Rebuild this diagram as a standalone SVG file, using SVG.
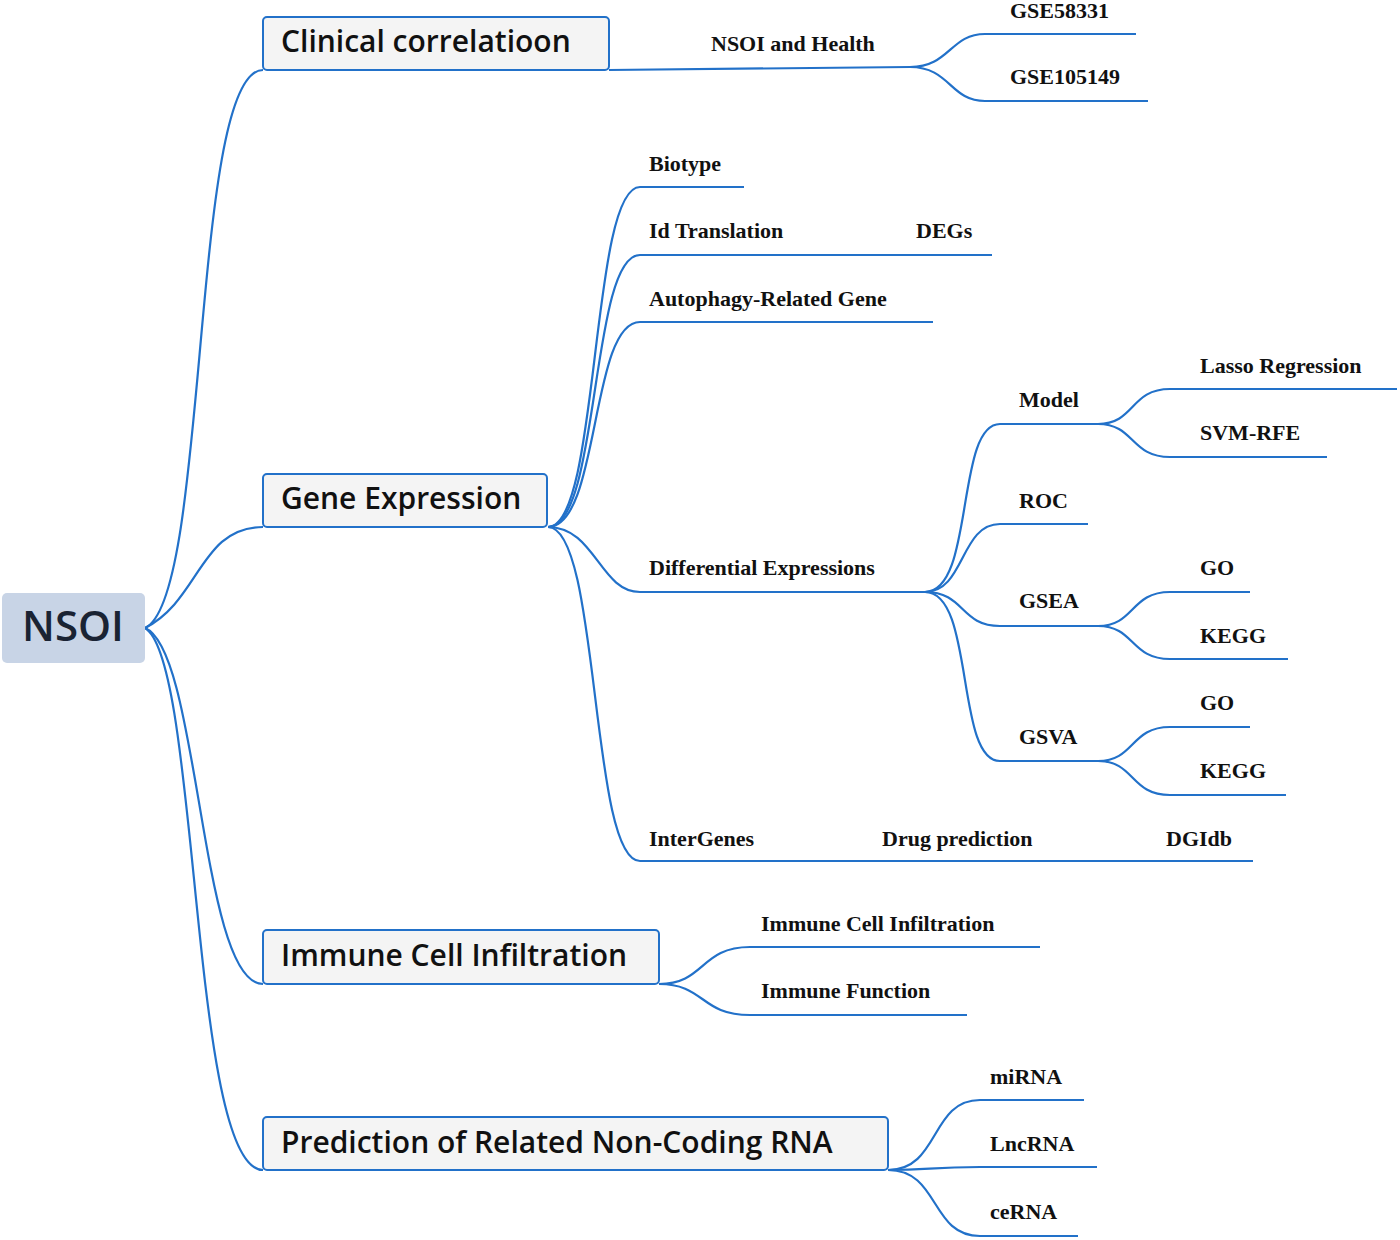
<svg xmlns="http://www.w3.org/2000/svg" width="1400" height="1240" viewBox="0 0 1400 1240">
<style>
.c{fill:none;stroke:#2271c9;stroke-width:2.2}
.box{fill:#f4f4f4;stroke:#2271c9;stroke-width:2}
.bt{font-family:"Open Sans","Noto Sans",sans-serif;font-weight:600;font-size:30px;fill:#111}
.t{font-family:"Liberation Serif","DejaVu Serif",serif;font-weight:bold;font-size:22px;fill:#111}
</style>
<rect width="1400" height="1240" fill="#fff"/>
<g id="connectors">
<path class="c" d="M145,628 C210,600 190,70 263,70"/>
<path class="c" d="M145,628 C200,600 200,527 263,527"/>
<path class="c" d="M145,628 C200,650 200,984 263,984"/>
<path class="c" d="M145,628 C200,660 190,1170 263,1170"/>
<path class="c" d="M609,70 L910,67"/>
<path class="c" d="M910,67 C950,67 950,34 985,34 H1136"/>
<path class="c" d="M910,67 C950,67 950,101 985,101 H1148"/>
<path class="c" d="M548,527 C600,527 590,187 640,187 H744"/>
<path class="c" d="M548,527 C600,527 590,255 640,255 H992"/>
<path class="c" d="M548,527 C600,527 590,322 640,322 H933"/>
<path class="c" d="M548,527 C595,527 600,592 640,592 H925"/>
<path class="c" d="M548,527 C600,527 590,861 640,861 H1253"/>
<path class="c" d="M925,592 C975,592 955,424 1000,424 H1098"/>
<path class="c" d="M925,592 C965,592 960,524 1000,524 H1088"/>
<path class="c" d="M925,592 C965,592 960,626 1000,626 H1098"/>
<path class="c" d="M925,592 C975,592 955,761 1000,761 H1098"/>
<path class="c" d="M1098,424 C1135,424 1130,389 1170,389 H1397"/>
<path class="c" d="M1098,424 C1135,424 1130,457 1170,457 H1327"/>
<path class="c" d="M1098,626 C1135,626 1130,592 1170,592 H1250"/>
<path class="c" d="M1098,626 C1135,626 1130,659 1170,659 H1288"/>
<path class="c" d="M1098,761 C1135,761 1130,727 1170,727 H1250"/>
<path class="c" d="M1098,761 C1135,761 1130,795 1170,795 H1286"/>
<path class="c" d="M659,984 C705,984 700,947 750,947 H1040"/>
<path class="c" d="M659,984 C705,984 700,1015 750,1015 H967"/>
<path class="c" d="M888,1170 C940,1170 930,1100 980,1100 H1084"/>
<path class="c" d="M888,1170 C930,1170 930,1167 980,1167 H1097"/>
<path class="c" d="M888,1170 C940,1170 930,1236 980,1236 H1078"/>
</g>
<g id="root"><rect x="2" y="593" width="143" height="70" rx="5" fill="#c8d4e6"/><text x="73" y="641" text-anchor="middle" font-family="'Open Sans','Noto Sans',sans-serif" font-weight="600" font-size="42" fill="#1a2333">NSOI</text></g>
<g id="clinical"><rect class="box" x="263" y="17" width="346" height="53" rx="4"/><text class="bt" x="281" y="52">Clinical correlatioon</text></g>
<g id="gene"><rect class="box" x="263" y="474" width="284" height="53" rx="4"/><text class="bt" x="281" y="509">Gene Expression</text></g>
<g id="immune"><rect class="box" x="263" y="930" width="396" height="54" rx="4"/><text class="bt" x="281" y="966">Immune Cell Infiltration</text></g>
<g id="ncrna"><rect class="box" x="263" y="1117" width="625" height="53" rx="4"/><text class="bt" x="281" y="1153">Prediction of Related Non-Coding RNA</text></g>
<g id="leaves">
<text class="t" x="711" y="51">NSOI and Health</text>
<text class="t" x="1010" y="18">GSE58331</text>
<text class="t" x="1010" y="84">GSE105149</text>
<text class="t" x="649" y="171">Biotype</text>
<text class="t" x="649" y="238">Id Translation</text>
<text class="t" x="916" y="238">DEGs</text>
<text class="t" x="649" y="306">Autophagy-Related Gene</text>
<text class="t" x="649" y="575">Differential Expressions</text>
<text class="t" x="649" y="846">InterGenes</text>
<text class="t" x="882" y="846">Drug prediction</text>
<text class="t" x="1166" y="846">DGIdb</text>
<text class="t" x="1019" y="407">Model</text>
<text class="t" x="1019" y="508">ROC</text>
<text class="t" x="1019" y="608">GSEA</text>
<text class="t" x="1019" y="744">GSVA</text>
<text class="t" x="1200" y="373">Lasso Regression</text>
<text class="t" x="1200" y="440">SVM-RFE</text>
<text class="t" x="1200" y="575">GO</text>
<text class="t" x="1200" y="643">KEGG</text>
<text class="t" x="1200" y="710">GO</text>
<text class="t" x="1200" y="778">KEGG</text>
<text class="t" x="761" y="931">Immune Cell Infiltration</text>
<text class="t" x="761" y="998">Immune Function</text>
<text class="t" x="990" y="1084">miRNA</text>
<text class="t" x="990" y="1151">LncRNA</text>
<text class="t" x="990" y="1219">ceRNA</text>
</g>
</svg>
